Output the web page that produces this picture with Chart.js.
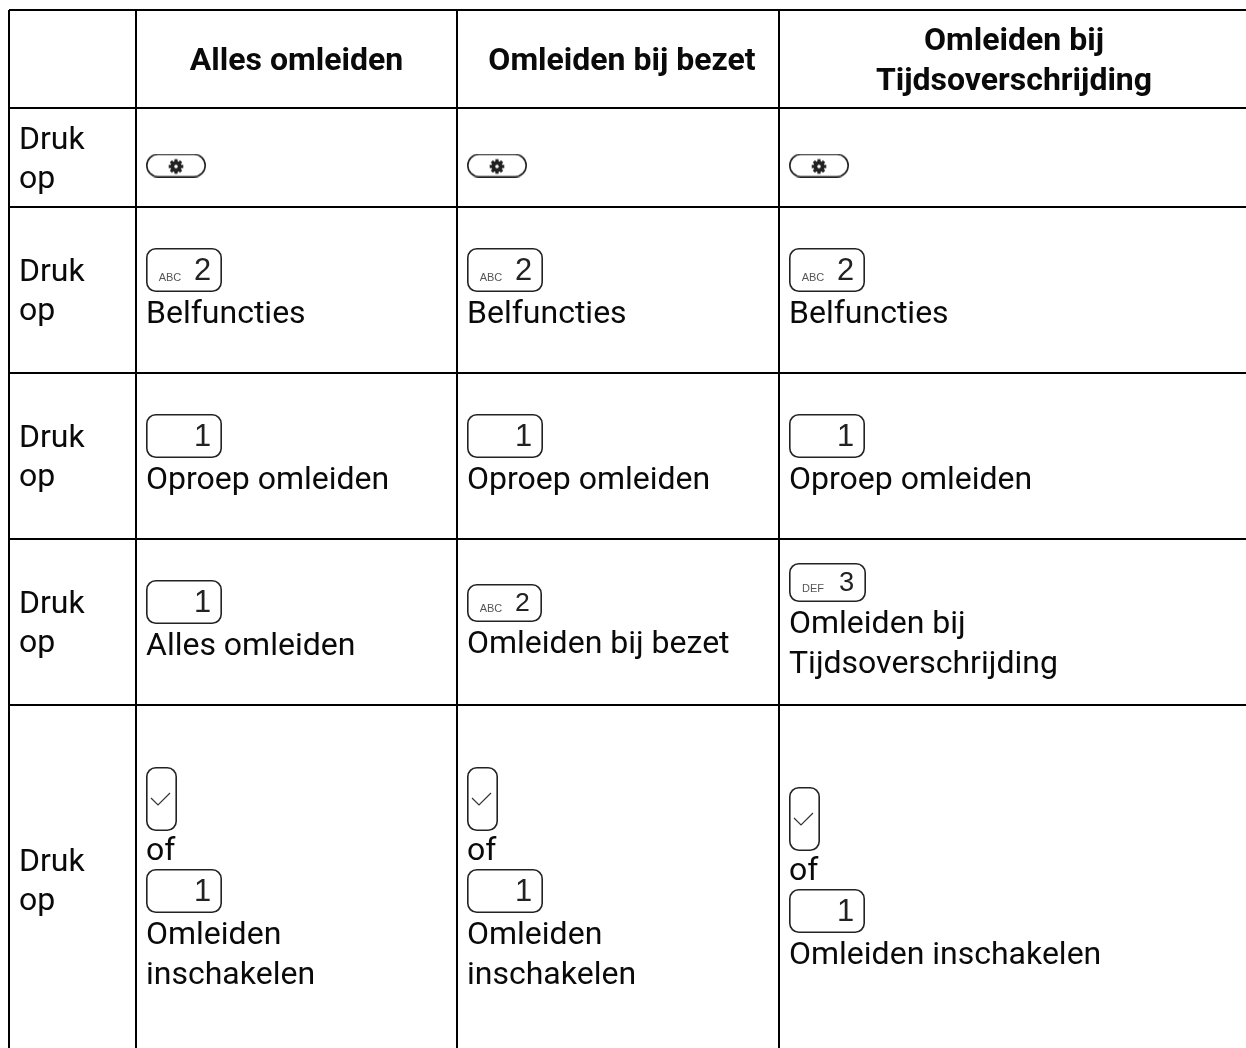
<!DOCTYPE html>
<html>
<head>
<meta charset="utf-8">
<style>
  html, body { margin: 0; padding: 0; background: #fff; overflow: hidden; }
  canvas { display: block; }
</style>
<script src="https://cdn.jsdelivr.net/npm/chart.js@4"></script>
</head>
<body>
<canvas id="chart" width="1246" height="1048"></canvas>
<script>
const headers = ["Alles omleiden", "Omleiden bij bezet", "Omleiden bij\nTijdsoverschrijding"];
const rowLabels = ["Druk\nop", "Druk\nop", "Druk\nop", "Druk\nop", "Druk\nop"];

// "@name" is a phone key, anything else a line of text
const pressSettings = [["@gear"], ["@gear"], ["@gear"]];
const pressCalls = [
    ["@abc", "Belfuncties"],
    ["@abc", "Belfuncties"],
    ["@abc", "Belfuncties"]
];
const pressForward = [
    ["@one", "Oproep omleiden"],
    ["@one", "Oproep omleiden"],
    ["@one", "Oproep omleiden"]
];
const pressType = [
    ["@one", "Alles omleiden"],
    ["@abcSmall", "Omleiden bij bezet"],
    ["@def", "Omleiden bij", "Tijdsoverschrijding"]
];
const pressEnable = [
    ["@check", "of", "@one", "Omleiden", "inschakelen"],
    ["@check", "of", "@one", "Omleiden", "inschakelen"],
    ["@check", "of", "@one", "Omleiden inschakelen"]
];
const tableRows = [pressSettings, pressCalls, pressForward, pressType, pressEnable];

const colEdges = [9, 136, 457, 779, 1246];
const rowEdges = [10, 108, 207, 373, 539, 705, 1055];
const headerCentres = [296.5, 622, 1014];

const lineHeight = 40;
const bodyFont = "32px Roboto";
const headFont = "bold 32px Roboto";
const textColor = "#0a0a0a";

const keySizes = {
    gear: [60, 24],
    abc: [76, 44],
    abcSmall: [75, 38],
    one: [76, 44],
    def: [77, 39],
    check: [31, 64]
};

function keyFrame(name) {
    const [w, h] = keySizes[name];
    const c = document.createElement("canvas");
    c.width = w;
    c.height = h;
    const ctx = c.getContext("2d");
    ctx.strokeStyle = "#222";
    ctx.lineWidth = 1.6;
    ctx.beginPath();
    ctx.roundRect(0.8, 0.8, w - 1.6, h - 1.6, name === "gear" ? (h - 1.6) / 2 : 9);
    ctx.stroke();
    return { c, ctx, w, h };
}

function numberKey(name, digit, letters) {
    const { c, ctx, w, h } = keyFrame(name);
    ctx.fillStyle = "#222";
    ctx.textBaseline = "alphabetic";
    ctx.textAlign = "center";
    ctx.font = (h * 0.7) + "px 'Liberation Sans'";
    ctx.fillText(digit, w - 19.5, h * 0.72);
    if (letters) {
        ctx.fillStyle = "#555";
        ctx.font = "11px 'Liberation Sans'";
        ctx.fillText(letters, 24, h * 0.74);
    }
    return c;
}

function gearKey() {
    const { c, ctx, w, h } = keyFrame("gear");
    const cx = w / 2, cy = h / 2 + 1;
    ctx.fillStyle = "#222";
    ctx.beginPath();
    ctx.arc(cx, cy, 5.5, 0, Math.PI * 2);
    ctx.fill();
    for (let i = 0; i < 8; i++) {
        ctx.save();
        ctx.translate(cx, cy);
        ctx.rotate(i * Math.PI / 4);
        ctx.fillRect(-1.6, -7.3, 3.2, 3);
        ctx.restore();
    }
    ctx.fillStyle = "#fff";
    ctx.beginPath();
    ctx.arc(cx, cy, 1.8, 0, Math.PI * 2);
    ctx.fill();
    return c;
}

function checkKey() {
    const { c, ctx, h } = keyFrame("check");
    ctx.strokeStyle = "#333";
    ctx.lineWidth = 1.2;
    ctx.beginPath();
    ctx.moveTo(5, h / 2 - 1);
    ctx.lineTo(12, h / 2 + 6);
    ctx.lineTo(24, h / 2 - 6);
    ctx.stroke();
    return c;
}

const keyImages = {
    gear: gearKey(),
    abc: numberKey("abc", "2", "ABC"),
    abcSmall: numberKey("abcSmall", "2", "ABC"),
    one: numberKey("one", "1", ""),
    def: numberKey("def", "3", "DEF"),
    check: checkKey()
};

// stack a cell's items around its row centre; small keys sit at the bottom of
// their line, the tall check key pokes 2px into the line under it
const textItems = [];
const keyPoints = {};
Object.keys(keyImages).forEach(k => { keyPoints[k] = []; });

function itemHeight(item) {
    if (item[0] !== "@") return lineHeight;
    if (item === "@check") return 62;
    return Math.max(keySizes[item.slice(1)][1], lineHeight);
}

tableRows.forEach((row, r) => {
    const centre = (rowEdges[r + 1] + rowEdges[r + 2]) / 2;
    row.forEach((cell, c) => {
        const left = colEdges[c + 1] + 10;
        let y = centre - cell.reduce((s, it) => s + itemHeight(it), 0) / 2;
        cell.forEach(item => {
            const h = itemHeight(item);
            if (item[0] === "@") {
                const name = item.slice(1);
                const [kw, kh] = keySizes[name];
                const mid = h > kh ? y + h - kh / 2 : y + kh / 2;
                keyPoints[name].push({ x: left + kw / 2, y: mid });
            } else {
                textItems.push({ text: item, x: left, y: y + 31, font: bodyFont, align: "left" });
            }
            y += h;
        });
    });
});

rowLabels.forEach((label, r) => {
    const centre = (rowEdges[r + 1] + rowEdges[r + 2]) / 2;
    const lines = label.split("\n");
    lines.forEach((line, i) => {
        textItems.push({
            text: line, x: colEdges[0] + 10,
            y: centre - lines.length * 20 + i * 39 + 31,
            font: bodyFont, align: "left"
        });
    });
});

headers.forEach((label, c) => {
    const centre = (rowEdges[0] + rowEdges[1]) / 2;
    const lines = label.split("\n");
    lines.forEach((line, i) => {
        textItems.push({
            text: line, x: headerCentres[c],
            y: centre - lines.length * 20 + i * 40 + 31,
            font: headFont, align: "center"
        });
    });
});

const tableText = {
    id: "tableText",
    afterDatasetsDraw(chart) {
        const { ctx, scales: { x, y } } = chart;
        ctx.save();
        ctx.fillStyle = textColor;
        ctx.textBaseline = "alphabetic";
        textItems.forEach(t => {
            ctx.font = t.font;
            ctx.textAlign = t.align;
            ctx.fillText(t.text, x.getPixelForValue(t.x), y.getPixelForValue(t.y));
        });
        ctx.restore();
    }
};

new Chart(document.getElementById("chart"), {
    type: "scatter",
    data: {
        datasets: Object.keys(keyImages).map(name => ({
            label: name,
            data: keyPoints[name],
            pointStyle: keyImages[name],
            pointRadius: 20,
            pointHoverRadius: 20,
            showLine: false,
            clip: false
        }))
    },
    options: {
        responsive: false,
        animation: false,
        events: [],
        layout: { autoPadding: false, padding: { left: 9, top: 10, right: 0, bottom: 0 } },
        plugins: { legend: { display: false }, tooltip: { enabled: false } },
        scales: {
            x: {
                type: "linear", min: 9, max: 1246,
                border: { display: false },
                grid: { color: "#000", lineWidth: 2, drawTicks: false },
                ticks: { display: false },
                afterBuildTicks: s => { s.ticks = colEdges.slice(0, 4).map(v => ({ value: v })); }
            },
            y: {
                type: "linear", min: 10, max: 1048, reverse: true,
                border: { display: false },
                grid: { color: "#000", lineWidth: 2, drawTicks: false },
                ticks: { display: false },
                afterBuildTicks: s => { s.ticks = rowEdges.slice(0, 6).map(v => ({ value: v })); }
            }
        }
    },
    plugins: [tableText]
});
</script>
</body>
</html>
